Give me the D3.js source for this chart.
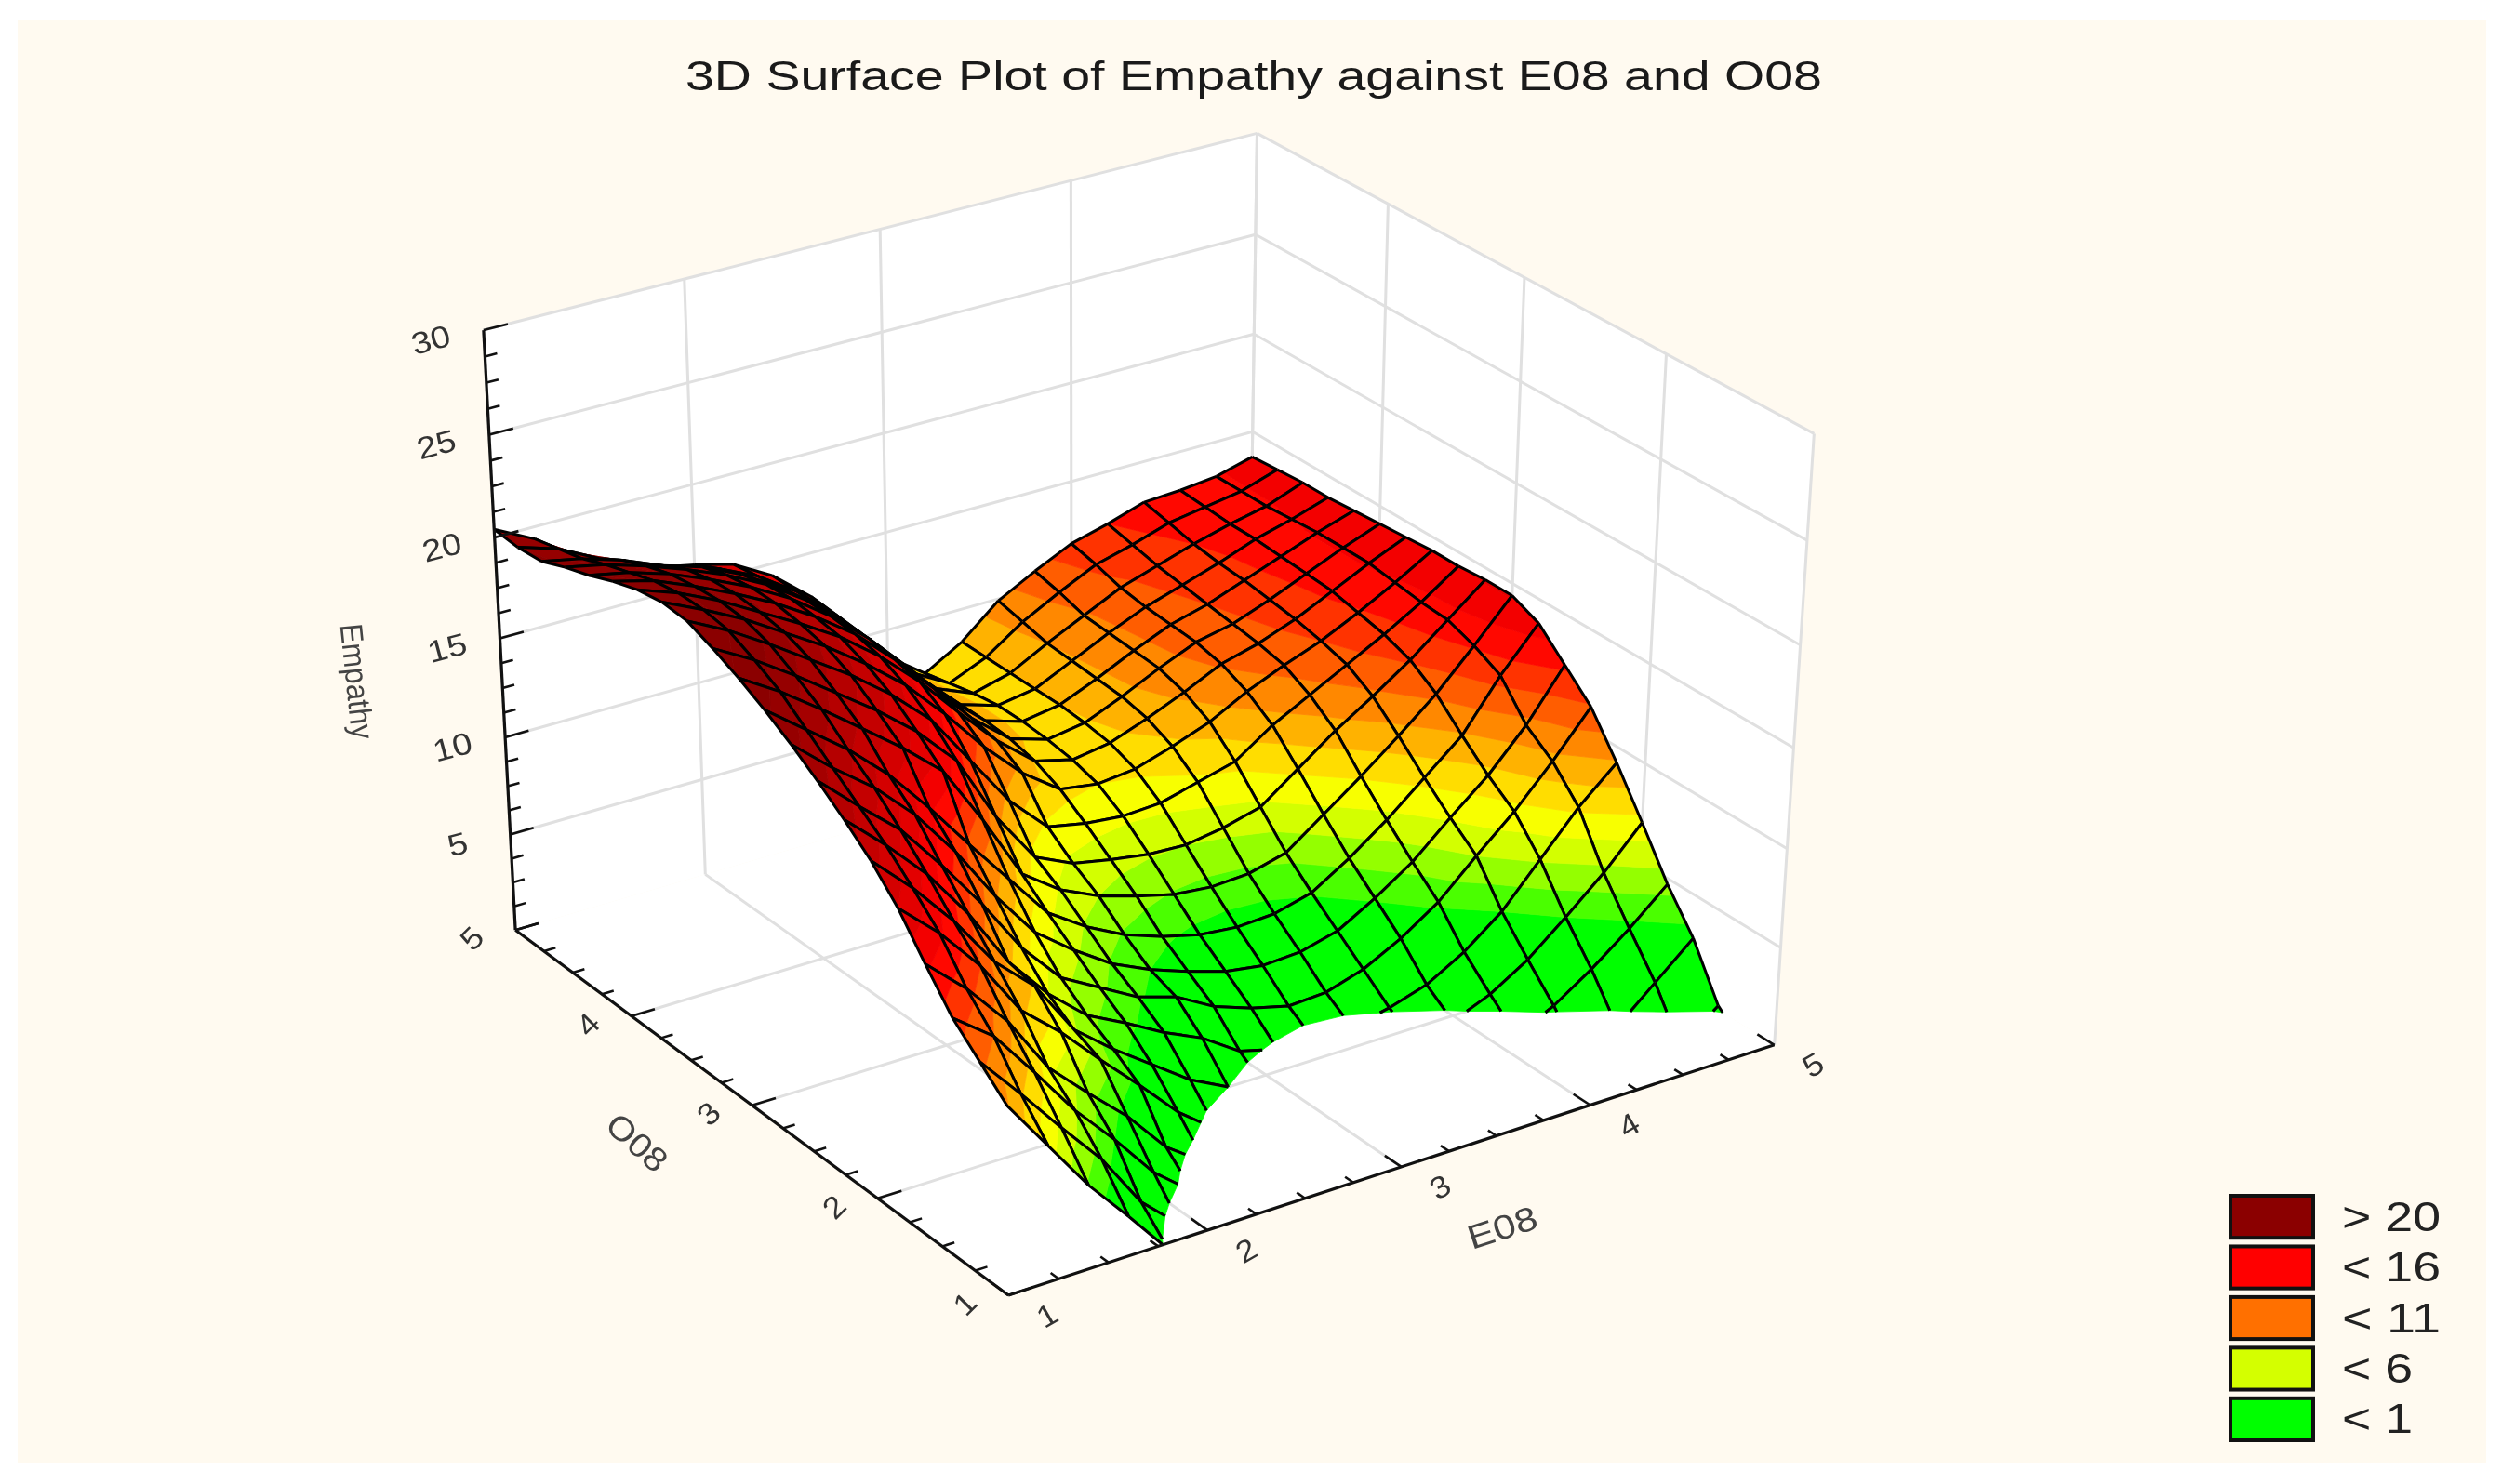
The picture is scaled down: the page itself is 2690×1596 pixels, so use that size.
<!DOCTYPE html>
<html><head><meta charset="utf-8">
<style>html,body{margin:0;padding:0;background:#fff}svg{display:block}text{font-family:"Liberation Sans",Arial,sans-serif}</style>
<script src="https://cdn.jsdelivr.net/npm/d3@7"></script></head>
<body><svg id="c" width="2690" height="1596"></svg>
<script>
const titleText = "3D Surface Plot of Empathy against E08 and O08";
const eLabel = "E08", oLabel = "O08", zLabel = "Empathy";
const eMajor = [1,2,3,4,5], oMajor = [1,2,3,4,5], zMajor = [0,5,10,15,20,25,30];
const zTickLabels = [5,10,15,20,25,30];
const legendLabels = ["> 20","< 16","< 11","< 6","< 1"];
const legendColors = ["#8b0000","#ff0000","#ff7000","#d4ff00","#00ff00"];
const eGrid = d3.range(21).map(i=>1+i*0.2);
const oGrid = d3.range(21).map(k=>1+k*0.2);
// Empathy, one list per O08 grid value, running E08 = 1.0 ... 5.0
const zO10=[9.4,6.8,4.2,2.0,-0.3,-1.5,-2.3,-3,-3.5,-3.8,-4,-4,-4,-3.9,-3.8,-3.6,-3.4,-3.2,-3,-2.8,-2.5];
const zO12=[10.6,8.4,6.1,3.9,1.1,-0.7,-2,-2.8,-3.2,-3.5,-3.7,-3.7,-3.7,-3.6,-3.4,-3.2,-3,-2.8,-2.4,-1.8,-1.0];
const zO14=[11.8,10.3,7.9,5.4,3.3,1.0,-0.6,-1.7,-2.3,-2.7,-3,-3.1,-3,-2.9,-2.7,-2.4,-2,-1.7,-1.4,-1.3,0.2];
const zO16=[13.5,11.7,9.5,6.6,4.7,2.9,0.7,-0.7,-1.5,-2.1,-2.4,-2.5,-2.5,-2.3,-2,-1.6,-1.2,-1.5,-0.6,1.1,2.8];
const zO18=[15.3,13.5,11.3,8.5,6.8,4.8,2.9,0.9,-0.6,-1.3,-1.7,-1.9,-1.9,-1.7,-1.4,-1.0,-0.7,0.2,1.5,3.0,4.7];
const zO20=[16.7,14.8,12.6,10.0,8.2,5.4,3.8,2.4,1.0,0.0,-0.7,-1.1,-1.2,-1.1,-0.8,-0.3,0.5,1.7,3.3,5.0,7.0];
const zO22=[17.8,16,14,11.5,8.5,6.3,4.6,3.6,2.5,1.6,0.3,-0.2,-0.4,-0.3,0.1,0.7,1.8,3.3,5.4,7.5,9.2];
const zO24=[18.8,17,15.3,13,10.5,7.7,5.6,4.5,3.4,2.8,1.7,1.0,0.5,0.6,1.2,2.2,3.5,5.3,7,9,11.2];
const zO26=[19.7,18,16.5,14.6,12.2,9.4,7.0,5.5,4.2,3.3,2.6,2,1.7,1.8,2.3,3.4,4.7,6.4,8,10,12.5];
const zO28=[20.5,19,17.5,15.7,13.5,11.1,8.8,6.5,5.2,4.2,3.5,3,2.8,2.9,3.4,4.6,6,7.6,9.2,11.7,13.8];
const zO30=[21.2,20.0,18.6,17.1,15.6,13.9,10.9,7.6,6.2,5.3,4.7,4.2,4.0,4.1,4.6,6.0,7.4,8.9,10.5,12.4,14.4];
const zO32=[21.8,20.7,19.4,18.0,16.6,15.0,13.0,9.6,7.0,6.1,5.7,5.4,5.3,5.6,6.1,7.5,8.9,10.1,11.4,12.9,14.4];
const zO34=[22.3,21.3,20.1,18.8,17.5,16,14.2,11.6,9.0,7.1,6.7,6.5,6.6,7.1,7.6,8.9,9.9,10.9,11.9,13,14.3];
const zO36=[22.4,21.5,20.5,19.3,18.1,16.7,15.1,13.1,10.9,9,7.6,7.3,7.5,8.1,8.8,9.8,10.6,11.3,12.2,13.2,14.3];
const zO38=[22.2,21.5,20.6,19.5,18.4,17.2,15.7,13.9,11.8,9.8,8.2,7.7,8,8.7,9.5,10.4,10.9,11.6,12.5,13.4,14.2];
const zO40=[21.8,21.3,20.5,19.6,18.6,17.4,16,14.2,12.2,10.1,8.5,7.9,8.2,9,9.9,10.7,11.1,11.8,12.6,13.4,14.1];
const zO42=[21.3,20.9,20.3,19.5,18.6,17.5,16.1,14.4,12.4,10.3,8.6,8,8.3,9.1,10,10.8,11.3,12,12.7,13.4,14];
const zO44=[20.9,20.5,19.9,19.2,18.4,17.4,16.1,14.4,12.5,10.4,8.6,8,8.3,9.2,10.1,10.9,11.5,12.1,12.8,13.3,13.9];
const zO46=[20.4,20,19.4,18.6,18,17.1,15.9,14.4,12.6,10.5,8.6,7.8,8.3,9.3,10.2,11.1,11.7,12.3,12.8,13.2,13.9];
const zO48=[20.3,19.7,18.7,17.9,17.2,16.6,15.7,14.4,12.7,10.6,8.6,7.5,8.3,9.6,10.6,11.5,12,12.6,12.9,13.2,13.8];
const zO50=[20.4,19.4,17.9,17,16.4,16,15.5,14.4,12.8,10.7,8.6,7.2,8.3,9.9,10.9,11.8,12.3,12.9,13,13.2,13.7];
const surface=[zO10,zO12,zO14,zO16,zO18,zO20,zO22,zO24,zO26,zO28,zO30,zO32,zO34,zO36,zO38,zO40,zO42,zO44,zO46,zO48,zO50];

// colour bands of the surface
const bandEdges=[0,...d3.range(3.3,24,1)];
const bandColor=d3.scaleLinear().domain([3.3,6,7.5,13.5,21]).range(["#00ff00","#c8ff00","#ffff00","#ff0000","#8b0000"]).clamp(true);

// perspective camera: vanishing points and origin in page pixels
const S=2690/1568;
const uS=d3.scaleLinear().domain([1,5]).range([0,1]);
const vS=d3.scaleLinear().domain([1,5]).range([0,1]);
const wS=d3.scaleLinear().domain([0,30]).range([0,1]);
const cam={ox:632*S,oy:812*S,
  ex:10146*S,ey:-2299*S,le:0.05313,
  ax:-3398*S,ay:-2174*S,la:0.08304,
  zx:680*S,zy:7303*S,lz:-0.0574};
function P(E,O,z){const u=cam.le*uS(E),v=cam.la*vS(O),w=cam.lz*wS(z),W=1+u+v+w;
  return [(u*cam.ex+v*cam.ax+w*cam.zx+cam.ox)/W,(u*cam.ey+v*cam.ay+w*cam.zy+cam.oy)/W];}
const line=d3.line();
const svg=d3.select("#c");
const root=svg.append("g").attr("style","filter:blur(0.7px)");
root.append("rect").attr("x",19).attr("y",22).attr("width",2654).attr("height",1551).attr("fill","#fffaf0");

// walls and floor
const wall=pts=>root.append("path").attr("d",line(pts)+"Z").attr("fill","#fff").attr("stroke","none");
wall([P(1,1,0),P(5,1,0),P(5,5,0),P(1,5,0)]);
wall([P(1,5,0),P(5,5,0),P(5,5,30),P(1,5,30)]);
wall([P(5,1,0),P(5,5,0),P(5,5,30),P(5,1,30)]);
const gridG=root.append("g").attr("fill","none").attr("stroke","#e0e0e0").attr("stroke-width",3);
const seg=(a,b,g=gridG)=>g.append("path").attr("d",line([a,b]));
eMajor.forEach(e=>{seg(P(e,5,0),P(e,5,30));if(e>1&&e<5)seg(P(e,1,0),P(e,5,0));});
oMajor.forEach(o=>{seg(P(5,o,0),P(5,o,30));if(o>1&&o<5)seg(P(1,o,0),P(5,o,0));});
zMajor.forEach(z=>{if(z>0){seg(P(1,5,z),P(5,5,z));seg(P(5,1,z),P(5,5,z));}});

// surface, painted from the far corner towards the viewer
function clip(poly,keep,val){const out=[];poly.forEach((p,i)=>{const q=poly[(i+1)%poly.length],a=val(p),b=val(q),ka=keep(a),kb=keep(b);
  if(ka)out.push(p);if(ka!==kb){const lim=keep.lim,t=(lim-a)/(b-a);out.push([p[0]+t*(q[0]-p[0]),p[1]+t*(q[1]-p[1]),p[2]+t*(q[2]-p[2])]);}});return out;}
function ge(l){const f=x=>x>=l;f.lim=l;return f;}
function lt(l){const f=x=>x<l;f.lim=l;return f;}
const zv=p=>p[2];
const surfG=root.append("g");
const node=(i,k)=>[eGrid[i],oGrid[k],surface[k][i]];
const toPath=poly=>line(poly.map(p=>P(p[0],p[1],p[2])))+"Z";
function edge(a,b){let p=a,q=b;if(p[2]<0&&q[2]<0)return"";
  if(p[2]<0||q[2]<0){const t=p[2]/(p[2]-q[2]),m=[p[0]+t*(q[0]-p[0]),p[1]+t*(q[1]-p[1]),0];if(p[2]<0)p=m;else q=m;}
  return line([P(p[0],p[1],p[2]),P(q[0],q[1],q[2])]);}
for(let i=eGrid.length-2;i>=0;i--)for(let k=oGrid.length-2;k>=0;k--){
  const quad=[node(i,k),node(i+1,k),node(i+1,k+1),node(i,k+1)];
  bandEdges.forEach((lo,b)=>{let poly=clip(quad,ge(lo),zv);if(poly.length<3)return;
    const hi=bandEdges[b+1];if(hi!==undefined){poly=clip(poly,lt(hi),zv);if(poly.length<3)return;}
    const col=bandColor(lo===0?0:lo+1);
    surfG.append("path").attr("d",toPath(poly)).attr("fill",col).attr("stroke",col).attr("stroke-width",0.8);});
  const d=[[0,1],[1,2],[2,3],[3,0]].map(([a,c])=>edge(quad[a],quad[c])).join("");
  if(d)surfG.append("path").attr("d",d).attr("fill","none").attr("stroke","#000").attr("stroke-width",3);
}

// axes
const axG=root.append("g").attr("fill","none").attr("stroke","#111").attr("stroke-width",3.2);
seg(P(1,5,0),P(1,5,30),axG);seg(P(1,1,0),P(1,5,0),axG);seg(P(1,1,0),P(5,1,0),axG);
const tickG=root.append("g").attr("fill","none").attr("stroke","#111").attr("stroke-width",2.6);
d3.range(0,30.01,1.25).forEach(z=>seg(P(1,5,z),P(1+(z%5===0?0.12:0.06),5,z),tickG));
d3.range(1,5.01,0.25).forEach(o=>seg(P(1,o,0),P(1+(o%1===0?0.12:0.06),o,0),tickG));
d3.range(1,5.01,0.25).forEach(e=>seg(P(e,1,0),P(e,1+(e%1===0?0.12:0.06),0),tickG));

// text
function label(t,x,y,size,rot,sx=1.2,fill="#2a2a2a"){
  root.append("text").text(t).attr("text-anchor","middle").attr("dominant-baseline","middle")
   .attr("font-size",size).attr("fill",fill).attr("transform",`translate(${x},${y}) rotate(${rot}) scale(${sx},1)`);}
root.append("text").text(titleText).attr("x",1348).attr("y",97).attr("text-anchor","middle").attr("font-size",44).attr("fill","#1a1a1a")
  .attr("textLength",1222).attr("lengthAdjust","spacingAndGlyphs");
zTickLabels.forEach(z=>{const p=P(1,5,z);label(z,p[0]-56,p[1]+13,33,-15,1.15,"#333");});
oMajor.forEach(o=>{const p=P(1,o,0);label(o,p[0]-45,p[1]+11,33,-45,1.1,"#333");});
eMajor.forEach(e=>{const p=P(e,1,0);label(e,p[0]+43,p[1]+24,33,-30,1.1,"#333");});
label(eLabel,1616,1323,36,-18,1.2,"#444");
label(oLabel,683,1231,36,42,1.1,"#444");
label(zLabel,381,733,34,84,0.93,"#444");

// legend
const legY=d3.scaleBand().domain(legendLabels).range([1286,1549]).paddingInner(0.17);
legendLabels.forEach((t,i)=>{
  root.append("rect").attr("x",2398).attr("y",legY(t)).attr("width",89).attr("height",legY.bandwidth())
    .attr("fill",legendColors[i]).attr("stroke","#111").attr("stroke-width",4);
  root.append("text").text(t).attr("x",2518).attr("y",legY(t)+legY.bandwidth()/2+15).attr("font-size",44).attr("fill","#222")
    .attr("textLength",t.length>3?106:76).attr("lengthAdjust","spacingAndGlyphs");
});
</script></body></html>
